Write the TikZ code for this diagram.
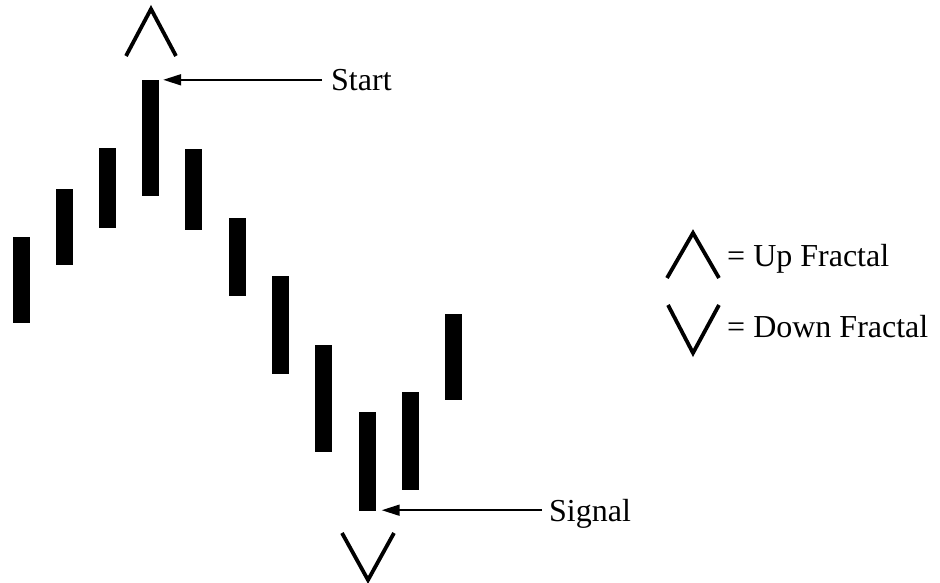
\documentclass[tikz,border=0pt]{standalone}
\usepackage{fontspec}
\setmainfont{Liberation Serif}
\usetikzlibrary{arrows.meta,calc}
\tikzset{
  bar/.style={fill=black, draw=none, rectangle, inner sep=0pt, minimum width=17pt},
  chev/.style={line width=3.8pt, line cap=butt, line join=miter},
  arr/.style={line width=1.8pt, -{Triangle[length=18pt,width=11pt]}},
  lbl/.style={inner sep=0pt, anchor=base west, font=\fontsize{32}{36}\selectfont}
}
\begin{document}
\begin{tikzpicture}[x=1pt,y=-1pt]
\useasboundingbox (0,0) rectangle (940,583);
% bars
\node[bar, minimum height=86pt]  (b1)  at (21,280) {};
\node[bar, minimum height=76pt]  (b2)  at (64,227) {};
\node[bar, minimum height=80pt]  (b3)  at (107,188) {};
\node[bar, minimum height=116pt] (b4)  at (150.5,138) {};
\node[bar, minimum height=81pt]  (b5)  at (193.5,189.5) {};
\node[bar, minimum height=78pt]  (b6)  at (237,257) {};
\node[bar, minimum height=98pt]  (b7)  at (280,325) {};
\node[bar, minimum height=107pt] (b8)  at (323.5,398.5) {};
\node[bar, minimum height=99pt]  (b9)  at (367,461.5) {};
\node[bar, minimum height=98pt]  (b10) at (410,441) {};
\node[bar, minimum height=86pt]  (b11) at (453,357) {};
% fractal marks
\draw[chev] (126,56) -- (151,9) -- (176,56);
\draw[chev] (342,533) -- (368,580) -- (394,533);
% labels
\node[lbl] (start)  at (331,91) {Start};
\node[lbl] (signal) at (549,521) {Signal};
\draw[arr] ($(b4.north east -| start.west)+(-9,0)$) -- ($(b4.north east)+(4,0)$);
\draw[arr] ($(b9.south east -| signal.west)+(-7,-1)$) -- ($(b9.south east)+(6,-1)$);
% legend
\draw[chev] (667,278) -- (693,233) -- (719,278);
\draw[chev] (668,305) -- (693,353) -- (719,305);
\node[lbl] (up)   at (727,266) {= Up Fractal};
\node[lbl] (down) at (727,337) {= Down Fractal};
\end{tikzpicture}
\end{document}
